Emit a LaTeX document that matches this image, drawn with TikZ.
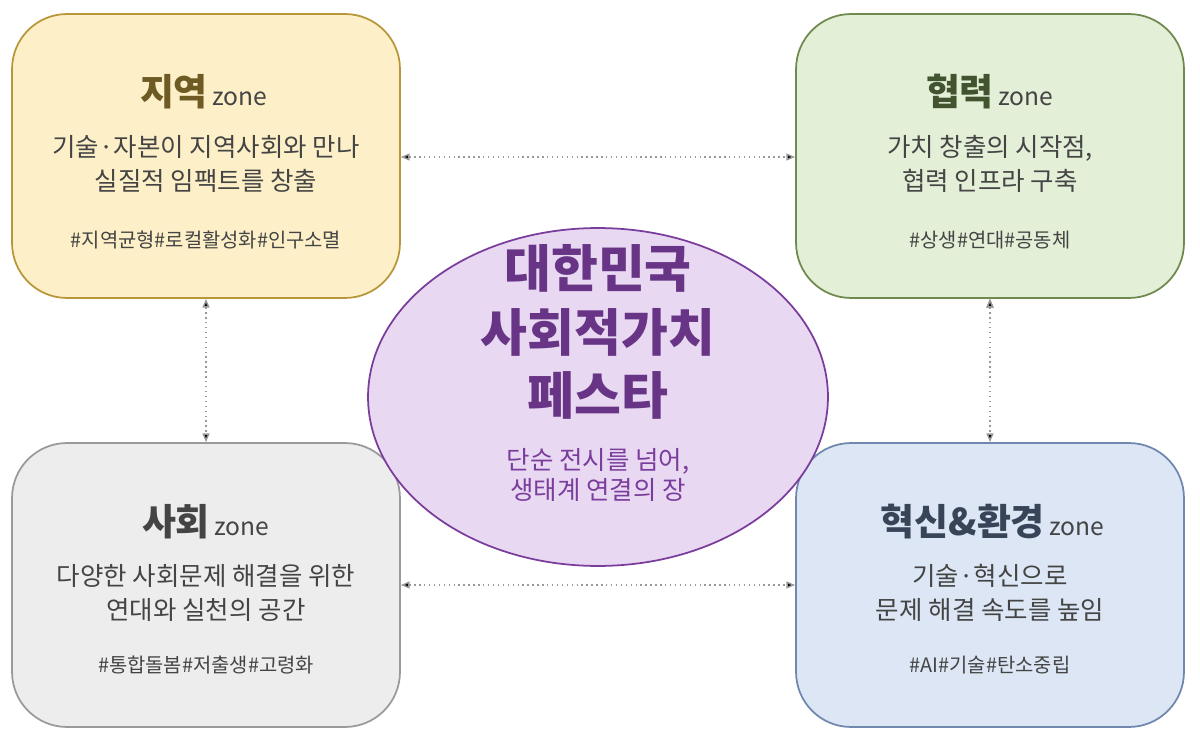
\documentclass[tikz,border=0pt]{standalone}
\usepackage{fontspec}
\setmainfont{Noto Sans CJK KR}
\usepackage{tikz}
\usetikzlibrary{arrows.meta,shapes.geometric}
\definecolor{cyellow}{HTML}{FDF0C8}
\definecolor{cyellowd}{HTML}{B8963A}
\definecolor{cgreen}{HTML}{E3EFD6}
\definecolor{cgreend}{HTML}{6E8A4E}
\definecolor{cgray}{HTML}{EDEDED}
\definecolor{cgrayd}{HTML}{9A9A9A}
\definecolor{cblue}{HTML}{DCE6F4}
\definecolor{cblued}{HTML}{7088AE}
\definecolor{cpurple}{HTML}{E8D8F2}
\definecolor{cpurpled}{HTML}{7A3D9C}
\definecolor{ctext}{HTML}{444444}
\begin{document}
\begin{tikzpicture}[x=0.02cm,y=-0.02cm,
  zone box/.style={draw,rounded corners=1.1cm,line width=1pt,minimum width=7.76cm,minimum height=5.68cm},
  head/.style={font=\fontsize{21}{24}\selectfont\bfseries,inner xsep=1pt},
  zone word/.style={font=\fontsize{14}{16}\selectfont,text=ctext,inner xsep=1pt},
  desc/.style={align=center,font=\fontsize{14.5}{19}\selectfont,text=ctext},
  tags/.style={font=\fontsize{11.3}{13}\selectfont,text=ctext},
  link/.style={{Triangle[length=5pt,width=4pt]}-{Triangle[length=5pt,width=4pt]},dotted,draw=gray!80,line width=0.8pt}]
  \useasboundingbox (0,0) rectangle (1200,743);

  % zone boxes
  \node[zone box,fill=cyellow,draw=cyellowd] (local) at (206,156) {};
  \node[zone box,fill=cgreen,draw=cgreend] (coop) at (990,156) {};
  \node[zone box,fill=cgray,draw=cgrayd] (social) at (206,585) {};
  \node[zone box,fill=cblue,draw=cblued] (innov) at (990,585) {};
  \node[ellipse,draw=cpurpled,fill=cpurple,line width=1pt,minimum width=9.2cm,minimum height=6.76cm] (festa) at (598,397) {};

  % titles
  \node[head,text=cyellowd!60!black,anchor=base east] (localh) at (210,106) {지역};
  \node[zone word,anchor=base west] at (localh.base east) {zone};
  \node[head,text=cgreend!60!black,anchor=base east] (cooph) at (996,106) {협력};
  \node[zone word,anchor=base west] at (cooph.base east) {zone};
  \node[head,text=ctext,anchor=base east] (socialh) at (212,535) {사회};
  \node[zone word,anchor=base west] at (socialh.base east) {zone};
  \node[head,text=cblued!50!black,anchor=base east] (innovh) at (1047,535) {혁신\&환경};
  \node[zone word,anchor=base west] at (innovh.base east) {zone};

  % descriptions
  \node[desc] at (206,164) {기술·자본이 지역사회와 만나\\실질적 임팩트를 창출};
  \node[desc] at (990,164) {가치 창출의 시작점,\\협력 인프라 구축};
  \node[desc] at (206,593) {다양한 사회문제 해결을 위한\\연대와 실천의 공간};
  \node[desc] at (990,593) {기술·혁신으로\\문제 해결 속도를 높임};

  \node[tags] at (206,240) {\#지역균형\#로컬활성화\#인구소멸};
  \node[tags] at (990,240) {\#상생\#연대\#공동체};
  \node[tags] at (206,665) {\#통합돌봄\#저출생\#고령화};
  \node[tags] at (990,665) {\#AI\#기술\#탄소중립};

  % center
  \node[align=center,text=cpurpled!85!black,font=\fontsize{29}{36}\selectfont\bfseries] at (598,332) {대한민국\\사회적가치\\페스타};
  \node[align=center,text=cpurpled,font=\fontsize{14.5}{17}\selectfont] at (598,475) {단순 전시를 넘어,\\생태계 연결의 장};

  % links
  \path[link]
    (local.east |- 0,157) edge (coop.west |- 0,157)
    (social.east |- 0,585) edge (innov.west |- 0,585)
    (local.south) edge (social.north)
    (coop.south) edge (innov.north);
\end{tikzpicture}
\end{document}
